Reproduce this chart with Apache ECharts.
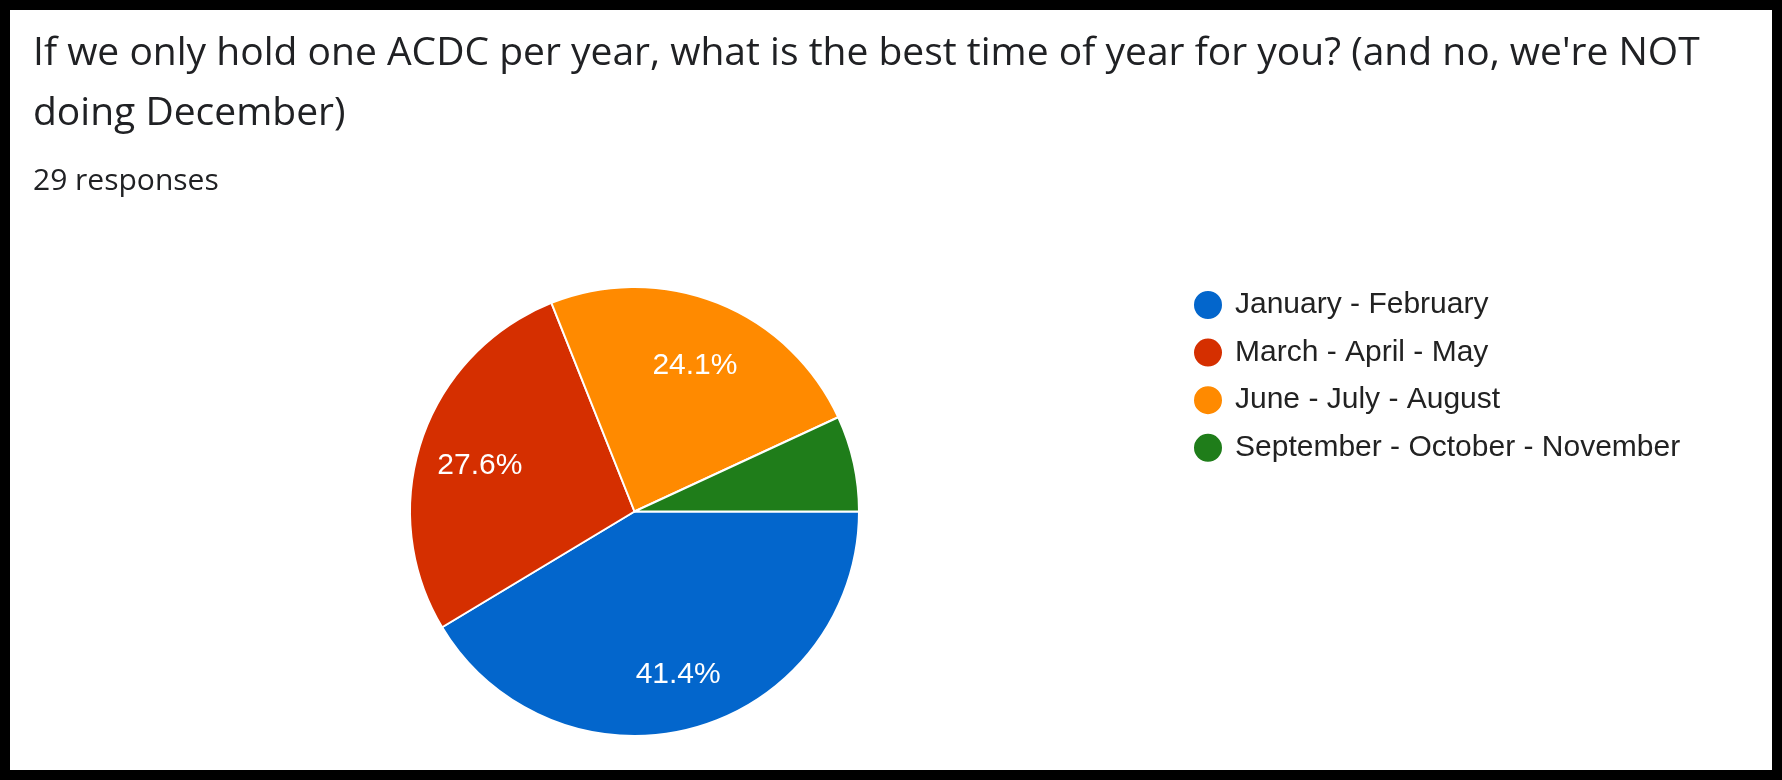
<!DOCTYPE html>
<html>
<head>
<meta charset="utf-8">
<script src="https://cdn.jsdelivr.net/npm/echarts@6/dist/echarts.min.js"></script>
<style>
  html, body { margin: 0; padding: 0; background: #000; }
  #frame { position: absolute; left: 0; top: 0; width: 1782px; height: 780px; background: #000; }
  #chart { position: absolute; left: 10px; top: 10px; width: 1762px; height: 760px; background: #fff; }
</style>
</head>
<body>
<div id="frame"><div id="chart"></div></div>
<script>
const titleLines = [
  "If we only hold one ACDC per year, what is the best time of year for you? (and no, we're NOT",
  "doing December)"
];
const subtitle = "29 responses";
const categories = [
  "January - February",
  "March - April - May",
  "June - July - August",
  "September - October - November"
];
const responses = [12, 8, 7, 2];
const colors = ["#0366cc", "#d52f00", "#ff8a00", "#1f7d1a"];

const chart = echarts.init(document.getElementById('chart'), null, { renderer: 'canvas' });
const pieData = categories.map((c, i) => ({ name: c, value: responses[i], itemStyle: { color: colors[i] } }));
const total = responses.reduce((a, b) => a + b, 0);

chart.setOption({
  animation: false,
  title: [
    {
      text: titleLines.join('\n'),
      left: 23, top: 14,
      padding: 0,
      textStyle: { fontFamily: 'Open Sans', fontSize: 39, fontWeight: 'normal', color: '#202124', lineHeight: 60 }
    },
    {
      text: subtitle,
      left: 23, top: 156,
      padding: 0,
      textStyle: { fontFamily: 'Open Sans', fontSize: 30, fontWeight: 'normal', color: '#202124', lineHeight: 30 }
    }
  ],
  legend: {
    orient: 'vertical',
    left: 1182, top: 279,
    padding: 0,
    icon: 'circle',
    itemWidth: 30, itemHeight: 30,
    itemGap: 15.6,
    selectedMode: false,
    data: categories.map((c, i) => ({ name: c, itemStyle: { color: colors[i] } })),
    textStyle: { fontFamily: 'Liberation Sans', fontSize: 30, lineHeight: 30, color: '#222222', padding: [0, 0, 0, 7] }
  },
  series: [
    {
      type: 'pie',
      center: [624.5, 501.5],
      radius: [0, 224.5],
      startAngle: 0,
      clockwise: true,
      silent: true,
      label: { show: false },
      labelLine: { show: false },
      itemStyle: { borderColor: '#ffffff', borderWidth: 2 },
      data: pieData
    },
    {
      type: 'pie',
      center: [624.5, 501.5],
      radius: [96, 224.5],
      startAngle: 0,
      clockwise: true,
      silent: true,
      legendHoverLink: false,
      itemStyle: { color: 'rgba(0,0,0,0)', borderWidth: 0 },
      labelLine: { show: false },
      labelLayout: { dy: 6 },
      label: {
        show: true,
        position: 'inside',
        fontFamily: 'Liberation Sans',
        fontSize: 30,
        color: '#ffffff',
        formatter: p => (p.value / total >= 0.1 ? (p.value / total * 100).toFixed(1) + '%' : '')
      },
      data: categories.map((c, i) => ({ name: c, value: responses[i] }))
    }
  ]
});
</script>
</body>
</html>
